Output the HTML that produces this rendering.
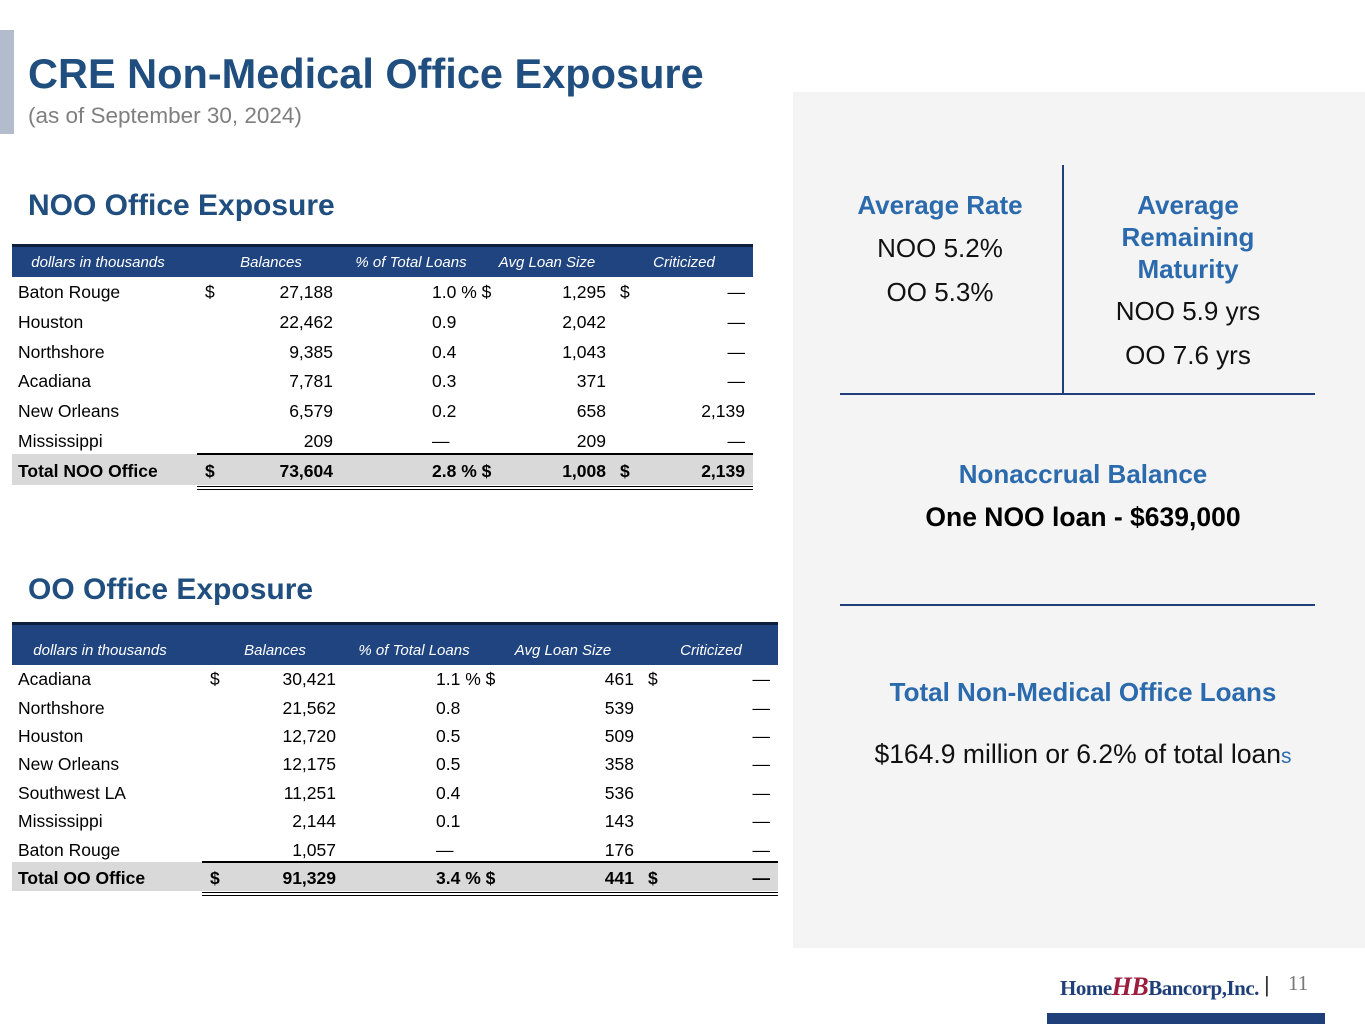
<!DOCTYPE html>
<html><head><meta charset="utf-8"><style>
body{margin:0;width:1365px;height:1024px;position:relative;background:#fff;font-family:"Liberation Sans",Arial,sans-serif;overflow:hidden}
.a{position:absolute;white-space:nowrap}
.r{text-align:right}
.c{text-align:center}
.hd{color:#fff;font-style:italic;font-size:15px}
.cell{font-size:17.5px;color:#000}
.bt{color:#2b6aac;font-weight:bold;font-size:26px}
.bv{font-size:26px;color:#111}
</style></head><body>
<div class="a" style="left:0;top:30px;width:14px;height:104px;background:#b3bccd"></div>
<div class="a" style="left:28px;top:50px;font-size:41.5px;font-weight:bold;color:#1f4e7f">CRE Non-Medical Office Exposure</div>
<div class="a" style="left:28px;top:103px;font-size:22.5px;color:#7f7f7f">(as of September 30, 2024)</div>

<div class="a" style="left:28px;top:189px;font-size:30px;font-weight:bold;color:#1f4e7f">NOO Office Exposure</div>
<div class="a" style="left:28px;top:573px;font-size:30px;font-weight:bold;color:#1f4e7f">OO Office Exposure</div>

<div id="noo"></div>
<div id="oo"></div>

<div class="a" style="left:793px;top:92px;width:572px;height:856px;background:#f4f4f4"></div>
<div class="a" style="left:1062px;top:165px;width:2px;height:229px;background:#1f3f7a"></div>
<div class="a" style="left:840px;top:393px;width:475px;height:2px;background:#1f3f7a"></div>
<div class="a" style="left:840px;top:604px;width:475px;height:2px;background:#1f3f7a"></div>
<div class="a c bt" style="left:840px;width:200px;top:190px">Average Rate</div>
<div class="a c bv" style="left:840px;width:200px;top:233px">NOO 5.2%</div>
<div class="a c bv" style="left:840px;width:200px;top:277px">OO 5.3%</div>
<div class="a c bt" style="left:1078px;width:220px;top:189px;line-height:32px;white-space:normal">Average Remaining Maturity</div>
<div class="a c bv" style="left:1078px;width:220px;top:296px">NOO 5.9 yrs</div>
<div class="a c bv" style="left:1078px;width:220px;top:340px">OO 7.6 yrs</div>
<div class="a c bt" style="left:840px;width:486px;top:459px">Nonaccrual Balance</div>
<div class="a c" style="left:840px;width:486px;top:502px;font-size:26.5px;font-weight:bold;color:#000">One NOO loan - $639,000</div>
<div class="a c bt" style="left:840px;width:486px;top:677px">Total Non-Medical Office Loans</div>
<div class="a c bv" style="left:840px;width:486px;top:739px;font-size:26.5px">$164.9 million or 6.2% of total loan<span style="color:#2b6cb0;font-size:21px">s</span></div>

<div class="a" style="left:1060px;top:972px;font-family:'Liberation Serif',serif;font-size:21px;font-weight:bold;color:#1f3f7a;letter-spacing:-0.5px">Home<span style="color:#9b1c3c;font-style:italic;font-size:26px">HB</span>Bancorp,Inc.</div>
<div class="a" style="left:1264px;top:972px;font-size:22px;color:#333">|</div>
<div class="a" style="left:1288px;top:971px;font-family:'Liberation Serif',serif;font-size:21px;color:#777">11</div>
<div class="a" style="left:1047px;top:1013px;width:278px;height:11px;background:#1f3f7a"></div>

<script>
const nooRegions=["Baton Rouge","Houston","Northshore","Acadiana","New Orleans","Mississippi"];
const nooBalances=["27,188","22,462","9,385","7,781","6,579","209"];
const nooPct=["1.0","0.9","0.4","0.3","0.2","—"];
const nooAvg=["1,295","2,042","1,043","371","658","209"];
const nooCrit=["—","—","—","—","2,139","—"];
const nooTotal=["Total NOO Office","73,604","2.8","1,008","2,139"];
const ooRegions=["Acadiana","Northshore","Houston","New Orleans","Southwest LA","Mississippi","Baton Rouge"];
const ooBalances=["30,421","21,562","12,720","12,175","11,251","2,144","1,057"];
const ooPct=["1.1","0.8","0.5","0.5","0.4","0.1","—"];
const ooAvg=["461","539","509","358","536","143","176"];
const ooCrit=["—","—","—","—","—","—","—"];
const ooTotal=["Total OO Office","91,329","3.4","441","—"];
const headers=["dollars in thousands","Balances","% of Total Loans","Avg Loan Size","Criticized"];

function el(parent,html,style,cls){const d=document.createElement('div');d.className='a '+(cls||'');d.innerHTML=html;d.style.cssText=style;parent.appendChild(d);return d;}

function build(id,g,regions,bal,pct,avg,crit,total){
  const root=document.getElementById(id);
  const band=el(root,'',`left:12px;top:${g.top}px;width:${g.w}px;height:${g.bh}px;background:#1f4480;border-top:3px solid #0d1f3d`);
  
  
  headers.forEach((h,i)=>{
    const d=el(root,h,`left:${g.hc[i]-90}px;width:180px;top:${g.top+g.bh-20}px`,'hd c');
    
    
  });
  const n=regions.length;
  const rows=regions.map((r,i)=>[r,bal[i],pct[i],avg[i],crit[i]]);
  rows.push(total);
  rows.forEach((row,i)=>{
    const y=g.r0+i*g.rh;
    const isT=i===n;
    if(isT){
      const bg=el(root,'',`left:12px;top:${y-2}px;width:${g.w}px;height:${g.rh+1}px;background:#d9d9d9`);
      
      
      const l1=el(root,'',`left:${g.ds-8}px;top:${y-3}px;width:${12+g.w-g.ds+8}px;height:2px;background:#000`);
      
      
      const l2=el(root,'',`left:${g.ds-8}px;top:${y+g.rh}px;width:${12+g.w-g.ds+8}px;height:4px;border-top:1.5px solid #000;border-bottom:1.5px solid #000;box-sizing:border-box`);
      
      
    }
    const fw=isT?'font-weight:bold;':'';
    const top=y+(g.rh-20)/2;
    const first=i===0||isT;
    const cells=[];
    cells.push(el(root,row[0],`${fw}left:18px;top:${top}px`,'cell'));
    if(first)cells.push(el(root,'$',`${fw}left:${g.ds}px;top:${top}px`,'cell'));
    cells.push(el(root,row[1],`${fw}left:${g.br-100}px;width:100px;top:${top}px`,'cell r'));
    if(row[2]==='—')cells.push(el(root,'—',`${fw}left:${g.pl}px;top:${top}px`,'cell'));
    else cells.push(el(root,row[2]+(first?' % $':''),`${fw}left:${g.pl}px;top:${top}px`,'cell'));
    cells.push(el(root,row[3],`${fw}left:${g.ar-100}px;width:100px;top:${top}px`,'cell r'));
    if(first)cells.push(el(root,'$',`${fw}left:${g.ar+14}px;top:${top}px`,'cell'));
    cells.push(el(root,row[4],`${fw}left:${g.cr-100}px;width:100px;top:${top}px`,'cell r'));
    cells.forEach(c=>{
      
      
    });
  });
}
build('noo',{top:244,bh:30,w:741,hc:[98,271,411,547,684],r0:277,rh:29.8,ds:205,br:333,pl:432,ar:606,cr:745},
  nooRegions,nooBalances,nooPct,nooAvg,nooCrit,nooTotal);
build('oo',{top:622,bh:40,w:766,hc:[100,275,414,563,711],r0:665,rh:28.4,ds:210,br:336,pl:436,ar:634,cr:770},
  ooRegions,ooBalances,ooPct,ooAvg,ooCrit,ooTotal);
</script>
</body></html>
